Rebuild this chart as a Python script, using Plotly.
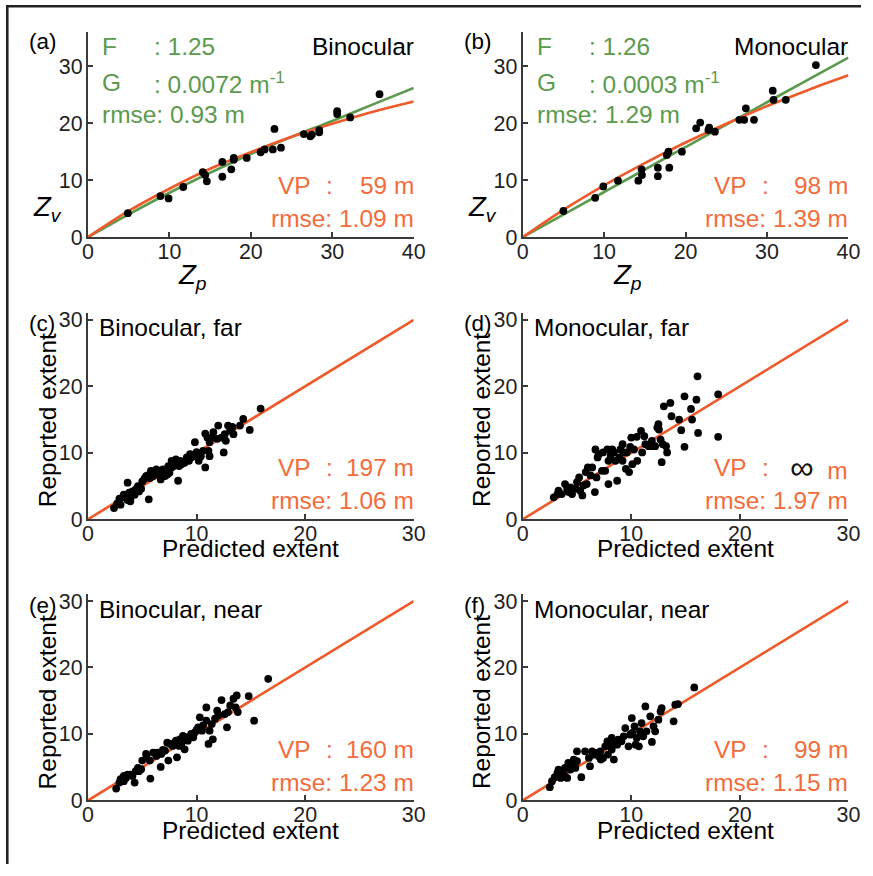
import plotly.graph_objects as go

W, H = 873, 876

# ---------------- data ----------------
# Panel (a) Binocular: Zp vs Zv
a_zp = [4.9, 8.9, 9.9, 11.7, 14.1, 14.4, 14.6, 16.5, 16.5, 17.6, 17.9, 17.9, 19.5, 21.2, 21.7, 22.7, 22.9, 23.7,
        26.5, 27.3, 27.5, 28.4, 28.4, 30.6, 30.6, 32.2, 35.8]
a_zv = [4.2, 7.2, 6.8, 8.8, 11.4, 10.9, 9.8, 13.2, 10.6, 11.9, 13.6, 13.9, 13.9, 14.9, 15.4, 15.4, 19.0, 15.7,
        18.1, 17.7, 18.0, 18.8, 18.4, 22.1, 21.6, 21.0, 25.1]
curve_x = [0, 5, 10, 15, 20, 25, 30, 35, 40]
a_green = [0, 4.0, 7.8, 11.3, 14.6, 17.6, 20.4, 23.3, 26.2]
a_red = [0, 4.6, 8.5, 12.0, 14.9, 17.6, 19.9, 22.0, 23.8]

# Panel (b) Monocular
b_zp = [5.0, 8.9, 9.9, 11.7, 14.2, 14.65, 14.6, 16.6, 16.6, 18.0, 17.7, 17.9, 19.55, 21.3, 21.8, 22.8, 22.9, 23.6,
        26.6, 27.2, 27.4, 28.4, 30.7, 30.8, 32.3, 36.0]
b_zv = [4.6, 6.9, 8.9, 9.9, 9.9, 10.9, 11.9, 12.2, 10.7, 12.2, 14.4, 15.0, 15.0, 19.1, 20.1, 18.8, 19.2, 18.5,
        20.6, 20.6, 22.6, 20.6, 25.7, 24.1, 24.1, 30.2]
b_green = [0, 3.96, 7.92, 11.87, 15.81, 19.75, 23.67, 27.6, 31.5]
b_red = [0, 4.8, 9.1, 13.0, 16.6, 19.9, 23.0, 25.8, 28.4]

# Panel (c) Binocular, far: predicted vs reported
c_pred = [2.4, 2.7, 2.9, 3.2, 3.3, 3.65, 3.65, 3.9, 3.96, 4.1, 4.3, 4.4, 4.6, 4.7, 4.9, 5.0, 5.2, 5.5, 5.6, 5.8,
          6.0, 6.1, 6.4, 6.5, 6.7, 6.75, 6.9, 7.1, 7.2, 7.4, 7.5, 7.7, 7.7, 7.9, 8.05, 8.3, 8.4, 8.5, 8.6, 9.1,
          9.3, 9.4, 9.5, 9.85, 10.0, 10.2, 10.4, 10.6, 10.8, 10.8, 11.0, 11.1, 11.2, 11.4, 11.2, 11.9, 12.0, 12.5,
          12.6, 12.7, 12.9, 13.1, 13.4, 14.0, 14.3, 14.9, 15.9, 3.0, 3.5, 3.8, 5.35, 5.7, 6.3, 7.3, 8.1, 8.9, 9.7,
          11.55, 12.3, 13.3]
c_rep = [1.7, 2.4, 3.1, 3.3, 3.7, 5.5, 2.9, 2.7, 3.3, 4.2, 3.7, 4.5, 5.0, 4.2, 4.6, 5.7, 6.1, 6.6, 3.0, 7.3,
         6.5, 7.0, 6.75, 7.3, 6.0, 7.0, 7.5, 6.5, 7.3, 8.0, 7.0, 8.8, 7.8, 8.0, 8.5, 5.8, 8.0, 8.8, 8.3, 9.3,
         8.8, 9.8, 9.3, 11.6, 10.1, 8.8, 9.5, 10.3, 7.8, 12.9, 12.3, 10.3, 11.6, 12.3, 9.5, 12.1, 14.1, 10.05,
         12.8, 11.8, 14.1, 13.35, 12.8, 14.1, 15.1, 13.45, 16.65, 2.2, 3.3, 4.0, 6.5, 6.2, 7.5, 6.75, 9.0, 8.5, 9.5,
         13.1, 12.3, 13.9]

# Panel (d) Monocular, far
d_pred = [2.86, 3.2, 3.3, 3.6, 3.9, 4.1, 4.25, 4.4, 4.55, 4.9, 5.0, 5.2, 5.3, 5.5, 5.6, 5.8, 5.9, 6.0, 6.25,
          6.4, 6.65, 6.7, 6.8, 6.9, 7.0, 7.3, 7.4, 7.6, 7.8, 7.9, 7.9, 8.1, 8.25, 8.4, 8.55, 8.7, 8.9, 9.0, 9.2,
          9.2, 9.3, 9.5, 9.6, 9.8, 9.9, 10.0, 10.1, 10.25, 10.5, 10.55, 10.9, 11.0, 11.2, 11.3, 11.6, 11.8, 11.9,
          12.2, 12.4, 12.5, 12.55, 12.7, 12.8, 12.9, 13.0, 13.2, 13.3, 13.6, 13.7, 14.4, 14.6, 14.9, 14.9, 15.5,
          15.6, 16.0, 16.1, 16.15, 18.0, 18.0]
d_rep = [3.3, 3.8, 4.3, 3.8, 5.3, 4.6, 4.1, 4.8, 3.8, 4.6, 5.6, 6.3, 4.3, 3.6, 5.1, 7.1, 5.3, 7.8, 6.6,
         7.8, 4.1, 10.5, 6.3, 9.3, 9.8, 7.3, 10.05, 7.3, 10.5, 5.3, 8.8, 9.55, 10.5, 10.05, 8.8, 5.8, 9.3, 10.5,
         11.3, 8.8, 10.05, 7.6, 10.05, 7.1, 10.9, 12.3, 8.3, 10.5, 12.4, 8.8, 13.3, 10.05, 12.5, 11.3, 11.0, 11.0,
         11.8, 11.0, 13.8, 14.3, 13.5, 12.0, 8.6, 11.3, 17.0, 11.0, 10.05, 17.5, 15.5, 15.0, 13.4, 18.5, 10.9,
         16.6, 15.0, 18.0, 21.5, 13.0, 18.8, 12.4]

# Panel (e) Binocular, near
e_pred = [2.6, 2.9, 3.0, 3.3, 3.5, 3.65, 3.9, 4.1, 4.3, 4.4, 4.6, 4.7, 4.9, 5.0, 5.35, 5.7, 5.75, 6.0, 6.3,
          6.4, 6.7, 6.75, 7.1, 7.3, 7.4, 7.6, 7.8, 8.0, 8.1, 8.2, 8.4, 8.45, 8.6, 8.75, 8.9, 9.1, 9.2, 9.5, 9.7,
          9.85, 10.15, 10.3, 10.5, 10.6, 10.9, 10.9, 11.1, 11.2, 11.4, 11.5, 11.7, 11.9, 12.0, 12.3, 12.6, 12.8,
          12.9, 13.1, 13.4, 13.6, 13.7, 13.8, 14.8, 15.3, 16.6, 3.3, 5.4, 6.9, 9.0, 10.0]
e_rep = [1.8, 2.7, 3.2, 3.7, 3.4, 3.9, 3.9, 3.7, 2.7, 4.4, 4.9, 4.4, 4.7, 6.0, 7.0, 6.0, 3.3, 7.2, 6.7,
         7.2, 5.05, 7.0, 7.5, 8.7, 6.0, 8.5, 8.2, 8.7, 9.0, 6.5, 8.2, 9.2, 8.5, 9.7, 7.7, 9.5, 9.0, 10.0, 9.5,
         10.25, 11.0, 12.5, 10.5, 11.3, 12.0, 14.0, 8.5, 10.5, 11.5, 9.2, 12.3, 13.5, 12.8, 15.1, 13.0, 11.0,
         13.3, 14.3, 15.3, 14.0, 15.8, 13.3, 15.7, 12.0, 18.3, 2.9, 6.5, 7.6, 9.4, 10.6]

# Panel (f) Monocular, near
f_pred = [2.5, 2.7, 2.95, 3.2, 3.3, 3.5, 3.6, 3.8, 3.9, 4.1, 4.2, 4.4, 4.5, 4.7, 4.85, 5.0, 5.0, 5.4, 5.75,
          6.1, 6.2, 6.4, 6.5, 6.7, 7.0, 7.15, 7.2, 7.4, 7.6, 7.8, 7.85, 8.1, 8.2, 8.2, 8.4, 8.5, 8.7, 8.8, 9.1,
          9.3, 9.45, 9.75, 9.9, 10.05, 10.1, 10.3, 10.4, 10.5, 10.7, 10.8, 10.95, 11.1, 11.3, 11.4, 11.75, 11.9,
          12.05, 12.2, 12.5, 12.7, 12.8, 13.9, 14.05, 14.3, 15.8]
f_rep = [2.0, 2.9, 3.5, 4.15, 4.65, 3.4, 4.4, 3.9, 4.9, 3.4, 5.65, 4.65, 5.15, 6.15, 4.9, 7.4, 5.9, 3.5, 7.4,
         6.4, 5.15, 7.4, 6.9, 7.15, 6.65, 7.4, 6.15, 6.4, 8.15, 8.9, 6.9, 8.65, 9.4, 7.65, 6.15, 8.65, 8.4, 9.15,
         8.9, 9.65, 10.9, 8.15, 9.9, 12.4, 10.15, 11.15, 8.4, 9.4, 8.15, 10.4, 11.65, 9.65, 14.15, 10.4, 12.65,
         8.8, 11.15, 10.4, 12.15, 13.4, 13.9, 11.9, 14.4, 14.5, 17.0]

ref_x = [0, 30]
ref_y = [0, 30]

ticks_a = [0, 10, 20, 30, 40]
ticks_y = [0, 10, 20, 30]
ticks_c = [0, 10, 20, 30]

# ---------------- style ----------------
GREEN = "#5c9a4e"
RED = "#ef5a2b"
ORANGE = "#f26c3c"
AXC = "#3a3a3a"
FONT = "Liberation Sans, Arial, sans-serif"

# the captured picture shows the page slightly reduced and offset; compensate
SC = 0.98
OFF = 5.0
K = 1 / SC

def tx(p):
    return (p - OFF) / SC

def px(x):
    return tx(x) / W

def py(y):
    return 1 - tx(y) / H

TS = 24 * K  # annotation text size

fig = go.Figure()

# panel geometry in target pixels: (left, right, bottom, top)
panels = {
    1: (87, 413, 237, 32),
    2: (522, 848, 237, 32),
    3: (87, 413, 519, 313),
    4: (522, 848, 519, 313),
    5: (87, 413, 800, 594),
    6: (522, 848, 800, 594),
}
xr = {1: [0, 40], 2: [0, 40], 3: [0, 30], 4: [0, 30], 5: [0, 30], 6: [0, 30]}
yr = {1: [0, 36], 2: [0, 36], 3: [0, 31], 4: [0, 31], 5: [0, 31], 6: [0, 31]}

for i, (l, r, b, t) in panels.items():
    sx = "" if i == 1 else str(i)
    xt = ticks_a if i <= 2 else ticks_c
    fig.layout["xaxis" + sx] = dict(
        domain=[px(l), px(r)], range=xr[i], anchor="y" + sx, showgrid=False, zeroline=False,
        showline=True, linecolor=AXC, linewidth=2 * K, ticks="inside", ticklen=5 * K, tickwidth=1.5,
        tickcolor=AXC, tickvals=xt, tickfont=dict(family=FONT, size=21 * K, color="#222"),
        ticklabelstandoff=-6, fixedrange=True)
    fig.layout["yaxis" + sx] = dict(
        domain=[py(b), py(t)], range=yr[i], anchor="x" + sx, showgrid=False, zeroline=False,
        showline=True, linecolor=AXC, linewidth=2 * K, ticks="inside", ticklen=5 * K, tickwidth=1.5,
        tickcolor=AXC, tickvals=ticks_y, tickfont=dict(family=FONT, size=21 * K, color="#222"),
        ticklabelstandoff=-1, fixedrange=True)

def add_line(x, y, color, i, shape="linear"):
    sx = "" if i == 1 else str(i)
    fig.add_trace(go.Scatter(x=x, y=y, mode="lines", line=dict(color=color, width=2.6 * K, shape=shape),
                             xaxis="x" + sx, yaxis="y" + sx, showlegend=False, hoverinfo="skip"))

def add_pts(x, y, i):
    sx = "" if i == 1 else str(i)
    fig.add_trace(go.Scatter(x=x, y=y, mode="markers", marker=dict(color="black", size=7.6 * K),
                             xaxis="x" + sx, yaxis="y" + sx, showlegend=False))

add_line(curve_x, a_green, GREEN, 1, "spline")
add_line(curve_x, a_red, RED, 1, "spline")
add_pts(a_zp, a_zv, 1)
add_line(curve_x, b_green, GREEN, 2, "spline")
add_line(curve_x, b_red, RED, 2, "spline")
add_pts(b_zp, b_zv, 2)
for i, (xs, ys) in zip([3, 4, 5, 6], [(c_pred, c_rep), (d_pred, d_rep), (e_pred, e_rep), (f_pred, f_rep)]):
    add_line(ref_x, ref_y, RED, i)
    add_pts(xs, ys, i)

ann = []

def txt(x, y, s, color="black", size=TS, xa="left", ya="middle", angle=0):
    ann.append(dict(x=px(x), y=py(y), xref="paper", yref="paper", text=s, showarrow=False,
                    xanchor=xa, yanchor=ya, textangle=angle,
                    font=dict(family=FONT, size=size, color=color)))

# panel letters
for lab, x, y in [("(a)", 26, 41), ("(b)", 461, 41), ("(c)", 26, 323), ("(d)", 461, 323),
                  ("(e)", 26, 605), ("(f)", 461, 605)]:
    txt(x, y, lab, size=22 * K)

# panel a/b green parameters
for off, F, G, rm in [(0, "1.25", "0.0072", "0.93"), (435, "1.26", "0.0003", "1.29")]:
    txt(99 + off, 46, "F", GREEN)
    txt(151 + off, 46, ": " + F, GREEN)
    txt(99 + off, 82, "G", GREEN)
    txt(151 + off, 82, ": " + G + " m<sup>-1</sup>", GREEN)
    txt(99 + off, 114, "rmse: " + rm + " m", GREEN)

txt(415, 46, "Binocular", xa="right")
txt(850, 46, "Monocular", xa="right")

# orange VP annotations
inf = '<span style="color:#111;font-size:%dpx">\u221e</span>  m' % round(32 * K)
vp_rows = [
    (275, 415, 185, 218, "59 m", "1.09"),
    (711, 850, 185, 218, "98 m", "1.39"),
    (275, 415, 467, 500, "197 m", "1.06"),
    (711, 850, 467, 500, inf, "1.97"),
    (275, 415, 749, 782, "160 m", "1.23"),
    (711, 850, 749, 782, "99 m", "1.15"),
]
for l, r, y1, y2, vp, rm in vp_rows:
    txt(l, y1, "VP", ORANGE)
    txt(l + 54, y1, ":", ORANGE, xa="center")
    txt(r, y1, vp, ORANGE, xa="right")
    txt(r, y2, "rmse: " + rm + " m", ORANGE, xa="right")

# c-f titles
txt(96, 327, "Binocular, far")
txt(531, 327, "Monocular, far")
txt(96, 609, "Binocular, near")
txt(531, 609, "Monocular, near")

# axis titles
zs = 27 * K
txt(47, 208, "<i>Z</i><sub><i>v</i></sub>", size=zs, xa="center")
txt(482, 208, "<i>Z</i><sub><i>v</i></sub>", size=zs, xa="center")
txt(192, 276, "<i>Z</i><sub><i>p</i></sub>", size=zs, xa="center")
txt(627, 276, "<i>Z</i><sub><i>p</i></sub>", size=zs, xa="center")
for cx, cy in [(250, 548), (685, 548), (250, 830), (685, 830)]:
    txt(cx, cy, "Predicted extent", size=24 * K, xa="center")
for cx, cy in [(46, 420), (481, 420), (46, 702), (481, 702)]:
    txt(cx, cy, "Reported extent", size=24 * K, xa="center", angle=-90)

fig.update_layout(
    width=W, height=H, margin=dict(l=0, r=0, t=0, b=0),
    paper_bgcolor="white", plot_bgcolor="white",
    annotations=ann,
    shapes=[
        dict(type="line", xref="paper", yref="paper", x0=1.3 / W, x1=1.3 / W, y0=1, y1=0,
             line=dict(color="#222", width=2.6)),
        dict(type="line", xref="paper", yref="paper", x0=0, x1=1, y0=1 - 1.3 / H, y1=1 - 1.3 / H,
             line=dict(color="#222", width=2.6)),
    ],
)

POST = (
    "var s=document.createElement('style');"
    "s.innerHTML='html,body{margin:0!important;padding:0!important;overflow:hidden!important;}"
    ".plotly-graph-div{position:fixed!important;left:0;top:0;}';"
    "document.head.appendChild(s);"
)

fig.write_html("out.html", config={"displayModeBar": False}, post_script=POST)
